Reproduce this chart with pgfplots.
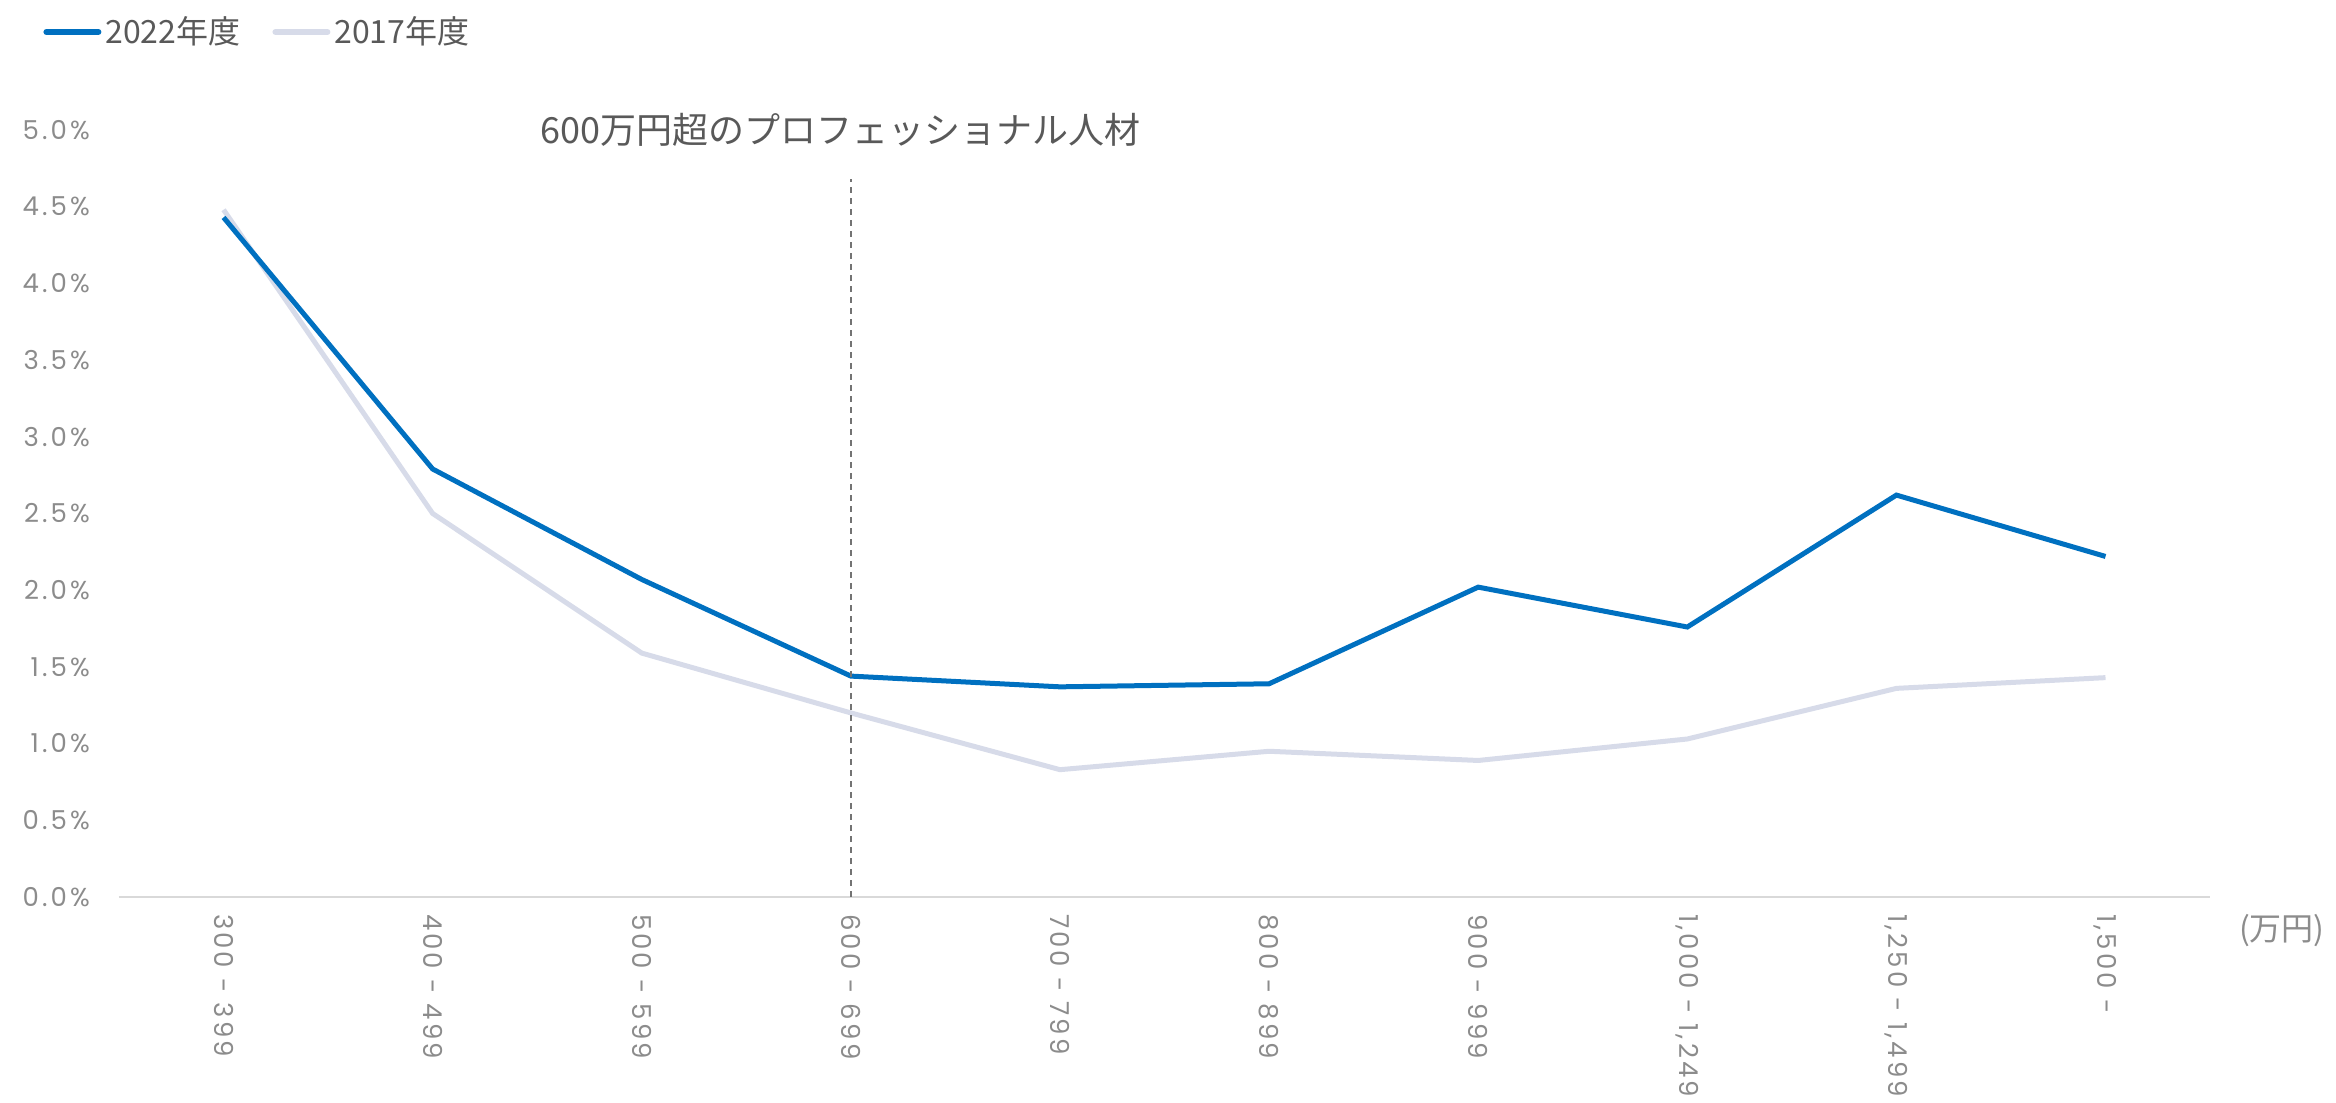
\documentclass[border=0pt]{standalone}
\usepackage{pgfplots}
\pgfplotsset{compat=1.18}
\usepackage{fontspec}
\setmainfont{Noto Sans CJK JP}
\newfontfamily\tickfont[LetterSpace=12]{Poppins}

\definecolor{c22}{HTML}{0070C0}
\definecolor{c17}{HTML}{D7DBE9}
\definecolor{tickgray}{HTML}{8C8C8C}
\definecolor{textgray}{HTML}{595959}

\begin{document}
\begin{tikzpicture}
\useasboundingbox (-59.5pt,-103pt) rectangle (1108.5pt,448.5pt);
\begin{axis}[
    scale only axis,
    width=1045.5pt,
    height=383.5pt,
    xmin=-0.5, xmax=9.5,
    ymin=0, ymax=5,
    clip=false,
    axis x line*=bottom,
    axis y line*=left,
    y axis line style={draw=none},
    x axis line style={draw=black!15, line width=1pt, -},
    major tick length=0pt,
    xtick={0,...,9},
    xticklabels={300 - 399, 400 - 499, 500 - 599, 600 - 699, 700 - 799,
                 800 - 899, 900 - 999, {1,000 - 1,249}, {1,250 - 1,499}, {1,500 -}},
    xticklabel style={rotate=-90, anchor=west, font=\tickfont\fontsize{13}{15}\selectfont, text=tickgray},
    xticklabel shift=5pt,
    ytick={0,0.5,1,1.5,2,2.5,3,3.5,4,4.5,5},
    yticklabel={\pgfmathprintnumber[fixed,fixed zerofill,precision=1]{\tick}\%},
    yticklabel style={anchor=east, xshift=-11pt, font=\tickfont\fontsize{13}{15}\selectfont, text=tickgray},
    /pgf/number format/assume math mode=true,
    reverse legend,
    legend columns=2,
    legend style={at={(rel axis cs:0,1)}, anchor=west, xshift=-38pt, yshift=49pt,
        draw=none, fill=none, inner sep=0pt,
        font=\fontsize{16}{18}\selectfont, text=textgray,
        /tikz/every even column/.append style={column sep=14pt}},
    legend image code/.code={\draw[#1, line width=3pt, line cap=round] (0pt,0pt) -- (26pt,0pt);},
]
\addplot[c17, line width=2.5pt] coordinates {
    (0,4.48) (1,2.50) (2,1.59) (3,1.20) (4,0.83)
    (5,0.95) (6,0.89) (7,1.03) (8,1.36) (9,1.43)
};
\addlegendentry{2017年度}
\addplot[c22, line width=2.5pt] coordinates {
    (0,4.43) (1,2.79) (2,2.07) (3,1.44) (4,1.37)
    (5,1.39) (6,2.02) (7,1.76) (8,2.62) (9,2.22)
};
\addlegendentry{2022年度}
\addplot[forget plot, black!55, dash pattern=on 3pt off 2.5pt, line width=0.8pt]
    coordinates {(3,0) (3,4.68)};
\node[font=\fontsize{18}{20}\selectfont, text=textgray, xshift=-5pt] at (axis cs:3,5) {600万円超のプロフェッショナル人材};
\node[anchor=west, xshift=11pt, yshift=-17pt, font=\fontsize{16}{18}\selectfont, text=tickgray] at (rel axis cs:1,0) {(万円)};
\end{axis}
\end{tikzpicture}
\end{document}
